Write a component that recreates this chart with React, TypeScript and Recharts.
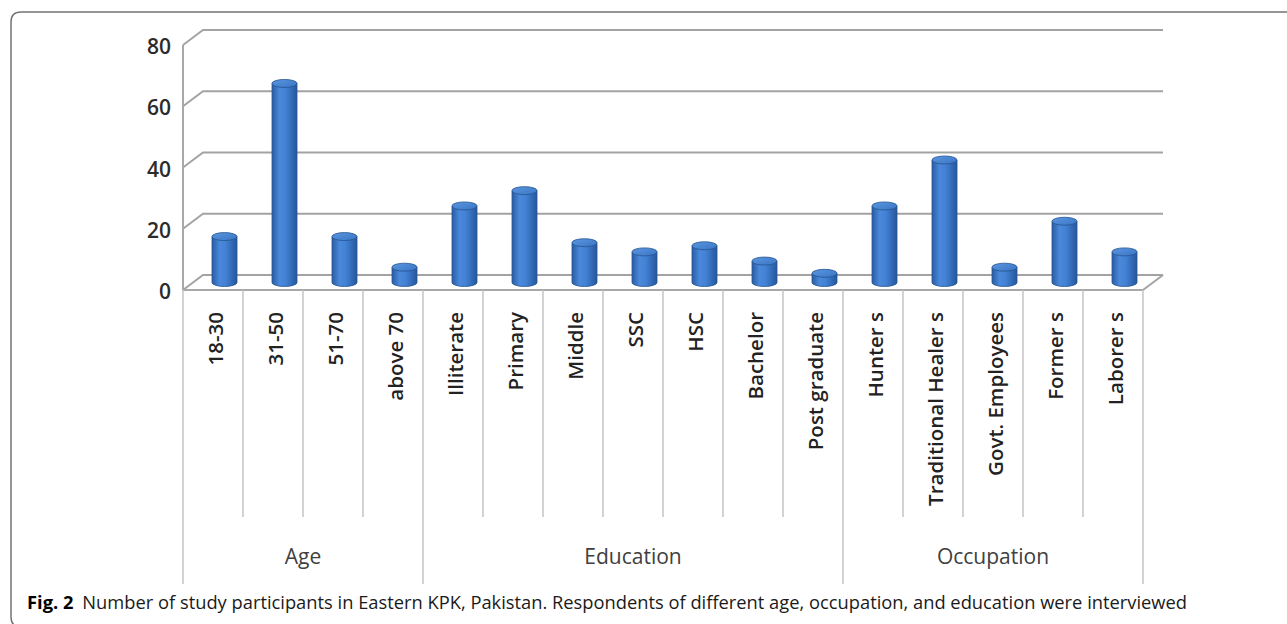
import { BarChart, Bar, XAxis, YAxis, CartesianGrid } from "recharts";

// participants per category, grouped by Age / Education / Occupation
const categories = [
  "18-30", "31-50", "51-70", "above 70",
  "Illiterate", "Primary", "Middle", "SSC", "HSC", "Bachelor", "Post graduate",
  "Hunter s", "Traditional Healer s", "Govt. Employees", "Former s", "Laborer s",
];
const participants = [15, 65, 15, 5, 25, 30, 13, 10, 12, 7, 3, 25, 40, 5, 20, 10];
const groupNames = ["Age", "Education", "Occupation"];
const groupSizes = [4, 7, 5];
const yTicks = [0, 20, 40, 60, 80];

const CAPTION_BOLD = "Fig. 2";
const CAPTION_TEXT =
  "Number of study participants in Eastern KPK, Pakistan. Respondents of different age, occupation, and education were interviewed";

const W = 1287;
const H = 624;
const MARGIN = { top: 45, right: 144, left: 23, bottom: 34 };
const Y_AXIS_W = 160;
const X_AXIS_H = 300;
const PLOT_LEFT = MARGIN.left + Y_AXIS_W;
const PLOT_RIGHT = W - MARGIN.right;
const PLOT_BOTTOM = H - MARGIN.bottom - X_AXIS_H;
const BAND = (PLOT_RIGHT - PLOT_LEFT) / categories.length;

// 3-D depth of the floor / back wall
const DEPTH_X = 20;
const DEPTH_Y = 15;
const FONT = "'Open Sans', sans-serif";

const data = categories.map((name, i) => ({ name, value: participants[i] }));

const groupStarts: number[] = [];
groupSizes.reduce((acc, n) => {
  groupStarts.push(acc);
  return acc + n;
}, 0);

function Cylinder(props: any) {
  const { x, y, width, height } = props;
  if (height == null || isNaN(height)) return null;
  const cx = x + width / 2 + DEPTH_X / 2 + 1;
  const left = cx - width / 2;
  const right = cx + width / 2;
  const top = y - DEPTH_Y / 2;
  const bottom = y + height - DEPTH_Y / 2;
  const rx = width / 2;
  const ry = 4;
  return (
    <g>
      <path
        d={`M${left},${top} L${left},${bottom} A${rx},${ry} 0 0 0 ${right},${bottom} L${right},${top} Z`}
        fill="url(#cylBody)"
        stroke="#25548f"
        strokeWidth={0.8}
      />
      <ellipse cx={cx} cy={top} rx={rx} ry={ry} fill="url(#cylCap)" stroke="#25548f" strokeWidth={0.8} />
    </g>
  );
}

function gridLine(p: any) {
  const { x1, y1, x2 } = p;
  let d = `M${x1},${y1} L${x1 + DEPTH_X},${y1 - DEPTH_Y} L${x2 + DEPTH_X},${y1 - DEPTH_Y}`;
  if (Math.abs(y1 - PLOT_BOTTOM) < 1) d += ` M${x2},${y1} L${x2 + DEPTH_X},${y1 - DEPTH_Y}`;
  return <path key={p.key} d={d} stroke="#a3a3a3" strokeWidth={2} fill="none" />;
}

function ValueTick(props: any) {
  const { y, payload } = props;
  return (
    <text
      x={PLOT_LEFT - 12}
      y={y + 1}
      textAnchor="end"
      dominantBaseline="central"
      fontFamily={FONT}
      fontSize={21}
      fontWeight={600}
      fill="#2b2b2b"
    >
      {payload.value}
    </text>
  );
}

function CategoryTick(props: any) {
  const { x, payload } = props;
  const i: number = props.index ?? payload.index;
  const left = PLOT_LEFT + i * BAND;
  const g = groupStarts.indexOf(i);
  const isLast = i === categories.length - 1;
  return (
    <g>
      <line x1={left} y1={PLOT_BOTTOM} x2={left} y2={g >= 0 ? 584 : 517} stroke="#c4c4c4" strokeWidth={1.5} />
      {isLast && (
        <line x1={left + BAND} y1={PLOT_BOTTOM} x2={left + BAND} y2={584} stroke="#c4c4c4" strokeWidth={1.5} />
      )}
      <text
        transform={`translate(${x + 2},312) rotate(-90)`}
        textAnchor="end"
        dominantBaseline="central"
        fontFamily={FONT}
        fontSize={20.5}
        fontWeight={600}
        fill="#222"
      >
        {payload.value}
      </text>
      {g >= 0 && (
        <text
          x={left + (groupSizes[g] * BAND) / 2}
          y={556}
          textAnchor="middle"
          dominantBaseline="central"
          fontFamily={FONT}
          fontSize={21}
          fill="#404040"
        >
          {groupNames[g]}
        </text>
      )}
    </g>
  );
}

export default function App() {
  return (
    <div style={{ position: "fixed", left: 0, top: 0, width: W, height: H, background: "#fff", overflow: "hidden" }}>
      <svg width={W} height={H} style={{ position: "absolute", left: 0, top: 0 }}>
        <path
          d={`M${W + 5},12 L21,12 Q11,12 11,22 L11,617 Q11,627 21,627 L${W + 5},627`}
          fill="none"
          stroke="#737373"
          strokeWidth={1.5}
        />
        <text
          x={27}
          y={609}
          fontFamily={FONT}
          fontSize={18.5}
          fill="#1a1a1a"
          textLength={1160}
          lengthAdjust="spacingAndGlyphs"
        >
          <tspan fontWeight={700} fill="#000">{CAPTION_BOLD}</tspan>
          <tspan dx={9}>{CAPTION_TEXT}</tspan>
        </text>
      </svg>
      <div style={{ position: "absolute", left: 0, top: 0 }}>
        <BarChart width={W} height={H} data={data} margin={MARGIN} barSize={25}>
          <defs>
            <linearGradient id="cylBody" x1="0" y1="0" x2="1" y2="0">
              <stop offset="0%" stopColor="#2a5ca3" />
              <stop offset="30%" stopColor="#4a88da" />
              <stop offset="55%" stopColor="#4281d4" />
              <stop offset="100%" stopColor="#26579c" />
            </linearGradient>
            <linearGradient id="cylCap" x1="0" y1="0" x2="1" y2="1">
              <stop offset="0%" stopColor="#5b97e2" />
              <stop offset="100%" stopColor="#3a74c3" />
            </linearGradient>
          </defs>
          <CartesianGrid vertical={false} horizontal={gridLine} />
          <XAxis
            dataKey="name"
            interval={0}
            height={X_AXIS_H}
            tickLine={false}
            axisLine={{ stroke: "#a8a8a8", strokeWidth: 2 }}
            tick={CategoryTick}
          />
          <YAxis
            width={Y_AXIS_W}
            domain={[0, 80]}
            ticks={yTicks}
            tickLine={false}
            axisLine={{ stroke: "#a8a8a8", strokeWidth: 2 }}
            tick={ValueTick}
          />
          <Bar dataKey="value" shape={Cylinder} isAnimationActive={false} />
        </BarChart>
      </div>
    </div>
  );
}
